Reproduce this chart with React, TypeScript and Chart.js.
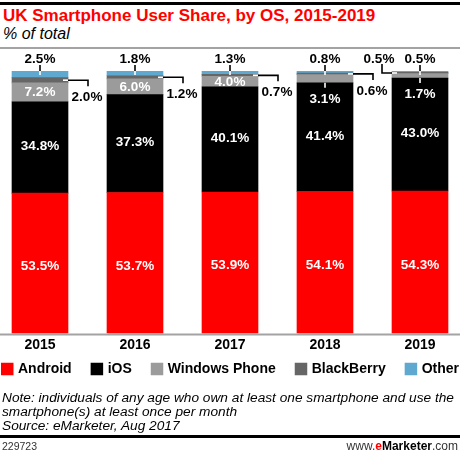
import React, { useEffect, useRef } from 'react';
import { Chart, registerables } from 'chart.js';

Chart.register(...registerables);

const years = ['2015', '2016', '2017', '2018', '2019'];
const android = [53.5, 53.7, 53.9, 54.1, 54.3];
const ios = [34.8, 37.3, 40.1, 41.4, 43.0];
const windowsPhone = [7.2, 6.0, 4.0, 3.1, 1.7];
const blackberry = [2.0, 1.2, 0.7, 0.6, 0.5];
const other = [2.5, 1.8, 1.3, 0.8, 0.5];
const seriesNames = ['Android', 'iOS', 'Windows Phone', 'BlackBerry', 'Other'];
const seriesColors = ['#ff0000', '#000000', '#9b9b9b', '#666666', '#5fa8cf'];

const FONT = '"Liberation Sans", Arial, Helvetica, sans-serif';
const fmt = (v: number) => v.toFixed(1) + '%';

function seg(ctx: CanvasRenderingContext2D, x1: number, y1: number, x2: number, y2: number, color: string) {
  ctx.beginPath();
  ctx.strokeStyle = color;
  ctx.lineWidth = 1.6;
  ctx.moveTo(x1, y1);
  ctx.lineTo(x2, y2);
  ctx.stroke();
}

const annotatePlugin = {
  id: 'annotate',
  afterDatasetsDraw(chart: any) {
    const ctx: CanvasRenderingContext2D = chart.ctx;
    const area = chart.chartArea;
    ctx.save();
    // baseline axis across the full width
    ctx.fillStyle = '#a3a3a3';
    ctx.fillRect(0, area.bottom, chart.width, 2);

    ctx.font = `bold 13.5px ${FONT}`;
    ctx.textAlign = 'center';
    ctx.textBaseline = 'middle';
    const metas = [0, 1, 2, 3, 4].map((i) => chart.getDatasetMeta(i).data);
    const last = years.length - 1;

    years.forEach((_, j) => {
      const a: any = metas[0][j];
      const i: any = metas[1][j];
      const w: any = metas[2][j];
      const b: any = metas[3][j];
      const o: any = metas[4][j];

      // Android
      ctx.fillStyle = '#ffffff';
      ctx.fillText(fmt(android[j]), a.x, (a.y + a.base) / 2 + 3);
      // iOS
      ctx.fillText(fmt(ios[j]), i.x, (i.y + i.base) / 2 - 1);
      // Windows Phone
      const wpH = Math.abs(w.base - w.y);
      if (wpH >= 10) {
        ctx.fillStyle = '#ffffff';
        ctx.fillText(fmt(windowsPhone[j]), w.x, (w.y + w.base) / 2 + 0.5);
      } else {
        seg(ctx, w.x, w.base, w.x, w.base + 5, '#ffffff');
        ctx.fillStyle = '#ffffff';
        ctx.fillText(fmt(windowsPhone[j]), w.x, w.base + 16);
      }
      // Other (above)
      const top = o.y;
      seg(ctx, o.x, top - 6, o.x, top, '#000000');
      seg(ctx, o.x, top, o.x, top + 4, '#ffffff');
      ctx.fillStyle = '#000000';
      ctx.fillText(fmt(other[j]), o.x, top - 11.5);
      // BlackBerry (connector)
      const cy = (b.y + b.base) / 2;
      if (j < last) {
        const right = b.x + b.width / 2;
        seg(ctx, right - 5, cy, right, cy, '#ffffff');
        ctx.beginPath();
        ctx.strokeStyle = '#000000';
        ctx.lineWidth = 1.6;
        ctx.moveTo(right, cy);
        ctx.lineTo(right + 20, cy);
        ctx.lineTo(right + 20, cy + 6);
        ctx.stroke();
        ctx.fillStyle = '#000000';
        ctx.fillText(fmt(blackberry[j]), right + 19, cy + 17);
      } else {
        const left = b.x - b.width / 2;
        seg(ctx, left, cy, left + 5, cy, '#ffffff');
        ctx.beginPath();
        ctx.strokeStyle = '#000000';
        ctx.lineWidth = 1.6;
        ctx.moveTo(left, cy);
        ctx.lineTo(left - 10, cy);
        ctx.lineTo(left - 10, cy - 9);
        ctx.stroke();
        ctx.fillStyle = '#000000';
        ctx.fillText(fmt(blackberry[j]), left - 13, cy - 14);
      }
    });
    ctx.restore();
  },
  afterDraw(chart: any) {
    const ctx: CanvasRenderingContext2D = chart.ctx;
    ctx.save();
    ctx.font = `bold 14px ${FONT}`;
    ctx.textBaseline = 'middle';
    ctx.textAlign = 'left';
    const box = 12.5;
    const gap = 4.5;
    const spacing = 19;
    const items = chart.data.datasets.map((ds: any) => ({
      label: ds.label as string,
      color: ds.backgroundColor as string,
      w: box + gap + ctx.measureText(ds.label).width,
    }));
    const total = items.reduce((s: number, it: any) => s + it.w, 0) + spacing * (items.length - 1);
    let x = (chart.width - total) / 2;
    const cy = chart.chartArea.bottom + 35.5;
    items.forEach((it: any) => {
      ctx.fillStyle = it.color;
      ctx.fillRect(x, cy - box / 2, box, box);
      ctx.fillStyle = '#000000';
      ctx.fillText(it.label, x + box + gap, cy + 0.5);
      x += it.w + spacing;
    });
    ctx.restore();
  },
};

export default function App() {
  const canvasRef = useRef<HTMLCanvasElement | null>(null);

  useEffect(() => {
    if (!canvasRef.current) return;
    const seriesData = [android, ios, windowsPhone, blackberry, other];
    const yearNums = years.map((y) => Number(y));
    // category pitch 95px across a 460px canvas: half-margins of 40px on each side
    const edge = 40 / 95;
    const chart = new Chart(canvasRef.current, {
      type: 'bar',
      data: {
        datasets: seriesNames.map((name, k) => ({
          label: name,
          data: seriesData[k].map((v, j) => ({ x: yearNums[j], y: v })),
          backgroundColor: seriesColors[k],
          borderWidth: 0,
          barThickness: 56,
        })),
      },
      options: {
        responsive: false,
        animation: false,
        devicePixelRatio: 1,
        layout: { padding: { top: 71, left: 0, right: 0, bottom: 96.7 } },
        scales: {
          x: {
            type: 'linear',
            stacked: true,
            offset: false,
            min: yearNums[0] - edge,
            max: yearNums[yearNums.length - 1] + edge,
            grid: { display: false, drawTicks: false },
            border: { display: false },
            ticks: {
              stepSize: 1,
              includeBounds: false,
              autoSkip: false,
              color: '#000000',
              padding: 3,
              font: { family: FONT, size: 14, weight: 'bold' },
              maxRotation: 0,
              callback: (v: any) => {
                const idx = yearNums.indexOf(Number(v));
                return idx >= 0 ? years[idx] : '';
              },
            },
          },
          y: {
            stacked: true,
            display: false,
            min: 0,
            max: 100,
          },
        },
        plugins: {
          legend: { display: false },
          tooltip: { enabled: false },
        },
      },
      plugins: [annotatePlugin],
    } as any);
    return () => chart.destroy();
  }, []);

  return (
    <div
      style={{
        position: 'absolute',
        left: 0,
        top: 0,
        width: 460,
        height: 453,
        background: '#ffffff',
        fontFamily: FONT,
        overflow: 'hidden',
      }}
    >
      <div style={{ position: 'absolute', left: 0, top: 2, width: 460, height: 3, background: '#000' }} />
      <div
        style={{
          position: 'absolute',
          left: 3,
          top: 7,
          fontSize: 17,
          lineHeight: '17px',
          fontWeight: 'bold',
          color: '#ff0000',
          whiteSpace: 'nowrap',
        }}
      >
        UK Smartphone User Share, by OS, 2015-2019
      </div>
      <div
        style={{
          position: 'absolute',
          left: 3,
          top: 26,
          fontSize: 16,
          lineHeight: '16px',
          fontStyle: 'italic',
          color: '#000',
          whiteSpace: 'nowrap',
        }}
      >
        % of total
      </div>
      <div style={{ position: 'absolute', left: 0, top: 47, width: 460, height: 2, background: '#a3a3a3' }} />
      <canvas
        ref={canvasRef}
        width={460}
        height={453}
        style={{ position: 'absolute', left: 0, top: 0, width: 460, height: 453, display: 'block' }}
      />
      <div
        style={{
          position: 'absolute',
          left: 2,
          top: 390.6,
          width: 460,
          fontSize: 13.7,
          lineHeight: '14.2px',
          fontStyle: 'italic',
          color: '#000',
          whiteSpace: 'nowrap',
        }}
      >
        <div>Note: individuals of any age who own at least one smartphone and use the</div>
        <div>smartphone(s) at least once per month</div>
        <div>Source: eMarketer, Aug 2017</div>
      </div>
      <div style={{ position: 'absolute', left: 0, top: 435, width: 460, height: 3, background: '#000' }} />
      <div
        style={{
          position: 'absolute',
          left: 2,
          top: 441,
          fontSize: 10.5,
          lineHeight: '11px',
          color: '#333',
        }}
      >
        229723
      </div>
      <div
        style={{
          position: 'absolute',
          right: 2,
          top: 440,
          fontSize: 12,
          lineHeight: '12px',
          color: '#333',
          whiteSpace: 'nowrap',
        }}
      >
        www.<b style={{ color: '#ff0000' }}>e</b>
        <b style={{ color: '#000' }}>Marketer</b>.com
      </div>
    </div>
  );
}
